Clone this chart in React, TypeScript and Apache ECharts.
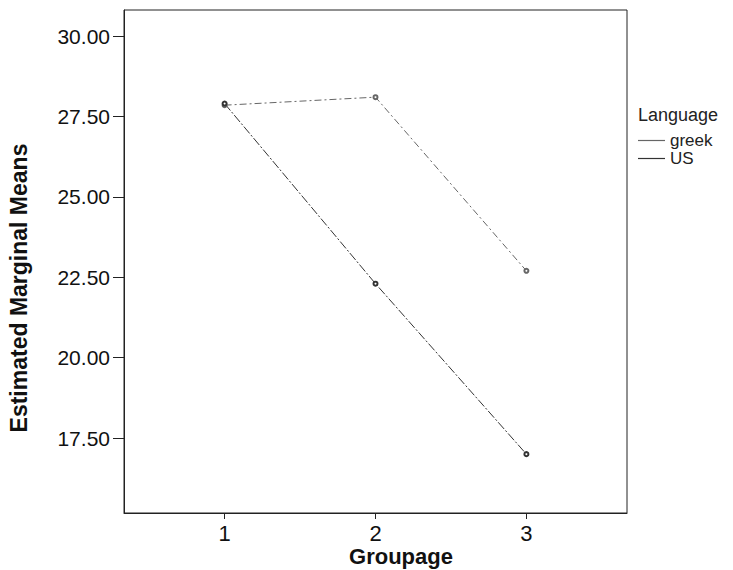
import React, { useEffect, useRef } from "react";
import * as echarts from "echarts";

const groups = [1, 2, 3];
const greekMeans = [27.85, 28.1, 22.7];
const usMeans = [27.9, 22.3, 17.0];
const yTicks = [17.5, 20, 22.5, 25, 27.5, 30];
const seriesNames = ["greek", "US"];
const xTitle = "Groupage";
const yTitle = "Estimated Marginal Means";
const legendTitle = "Language";

export default function App() {
  const ref = useRef<HTMLDivElement>(null);
  useEffect(() => {
    if (!ref.current) return;
    const chart = echarts.init(ref.current, null, { renderer: "svg" });
    const font = "Liberation Sans, Arial, sans-serif";
    chart.setOption({
      animation: false,
      backgroundColor: "#ffffff",
      textStyle: { fontFamily: font },
      title: {
        text: legendTitle,
        left: 638,
        top: 106,
        padding: 0,
        textStyle: { fontSize: 18, fontWeight: "normal", color: "#222", fontFamily: font, lineHeight: 18 },
      },
      legend: {
        data: seriesNames,
        orient: "vertical",
        left: 638,
        top: 132,
        padding: 0,
        icon: "rect",
        itemWidth: 27,
        itemHeight: 1.2,
        itemGap: 1,
        textStyle: { fontSize: 17, color: "#222", fontFamily: font, lineHeight: 17 },
      },
      graphic: [
        {
          type: "text",
          x: 401,
          y: 556,
          style: {
            text: xTitle,
            fontSize: 22,
            fontWeight: "bold",
            fontFamily: font,
            fill: "#111",
            textAlign: "center",
            textVerticalAlign: "middle",
          },
        },
        {
          type: "text",
          x: 19,
          y: 288,
          rotation: Math.PI / 2,
          style: {
            text: yTitle,
            fontSize: 23,
            fontWeight: "bold",
            fontFamily: font,
            fill: "#111",
            textAlign: "center",
            textVerticalAlign: "middle",
          },
        },
      ],
      grid: {
        left: 124,
        right: 106,
        top: 10,
        bottom: 57,
        show: true,
        borderColor: "#222",
        borderWidth: 1,
        backgroundColor: "transparent",
      },
      xAxis: {
        type: "value",
        min: 1 / 3,
        max: 11 / 3,
        axisLine: { show: true, lineStyle: { color: "#222", width: 1 } },
        axisTick: { show: true, length: 6, customValues: groups, lineStyle: { color: "#222" } },
        axisLabel: {
          customValues: groups,
          fontSize: 22,
          color: "#111",
          margin: 9,
          formatter: (v: number) => String(v),
        },
        splitLine: { show: false },
      },
      yAxis: {
        type: "value",
        min: 15.17,
        max: 30.81,
        axisLine: { show: true, lineStyle: { color: "#222", width: 1 } },
        axisTick: { show: true, length: 11, customValues: yTicks, lineStyle: { color: "#222" } },
        axisLabel: {
          customValues: yTicks,
          fontSize: 21,
          color: "#111",
          margin: 14,
          formatter: (v: number) => v.toFixed(2),
        },
        splitLine: { show: false },
      },
      series: [
        {
          name: seriesNames[0],
          type: "line",
          data: groups.map((g, i) => [g, greekMeans[i]]),
          symbol: "emptyCircle",
          symbolSize: 4,
          color: "#666",
          lineStyle: { color: "#666", width: 1, type: [7, 3, 2, 3] },
          itemStyle: { color: "#666", borderColor: "#555" },
        },
        {
          name: seriesNames[1],
          type: "line",
          data: groups.map((g, i) => [g, usMeans[i]]),
          symbol: "emptyCircle",
          symbolSize: 4,
          color: "#333",
          lineStyle: { color: "#333", width: 1, type: [9, 2, 2, 2] },
          itemStyle: { color: "#333", borderColor: "#222" },
        },
      ],
    });
    return () => chart.dispose();
  }, []);
  return <div ref={ref} style={{ position: "fixed", left: 0, top: 0, width: 733, height: 570 }} />;
}
